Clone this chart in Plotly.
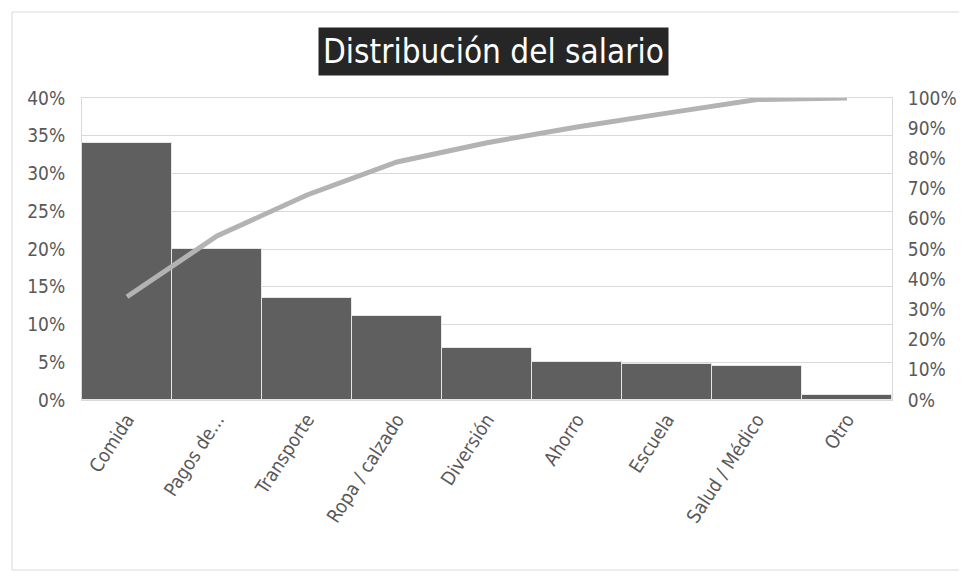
import plotly.graph_objects as go

categories = ["Comida", "Pagos de...", "Transporte", "Ropa / calzado", "Diversión",
              "Ahorro", "Escuela", "Salud / Médico", "Otro"]
share_pct = [34.0, 20.0, 13.5, 11.1, 6.9, 5.0, 4.8, 4.5, 0.7]
cumulative_pct = [34.2, 54.3, 67.9, 78.8, 85.2, 90.4, 95.0, 99.5, 100.0]

left_ticks = [0, 5, 10, 15, 20, 25, 30, 35, 40]
right_ticks = [0, 10, 20, 30, 40, 50, 60, 70, 80, 90, 100]

FONT = "Liberation Sans Narrow, DejaVu Sans Condensed, Arial Narrow, sans-serif"
TXT = "#595959"
GRID = "#d9d9d9"

fig = go.Figure()
fig.add_trace(go.Bar(
    x=categories, y=share_pct, marker=dict(color="#5f5f5f", line=dict(color="#e6e6e6", width=1)),
    width=1.0, yaxis="y", showlegend=False, hoverinfo="x+y"))
fig.add_trace(go.Scatter(
    x=categories, y=cumulative_pct, mode="lines", yaxis="y2",
    line=dict(color="#b3b3b3", width=5), showlegend=False))

fig.update_layout(
    width=967, height=581,
    margin=dict(l=74, r=83, t=90, b=189),
    paper_bgcolor="white", plot_bgcolor="white",
    font=dict(family=FONT, color=TXT, size=19),
    bargap=0,
    xaxis=dict(tickangle=-57, tickfont=dict(size=19, color=TXT), showgrid=False,
               showline=True, linecolor=GRID, linewidth=1, mirror=True,
               ticks="", range=[-0.5, 8.5]),
    yaxis=dict(range=[0, 40], tickvals=left_ticks, ticktext=[f"{v}%" for v in left_ticks],
               gridcolor=GRID, gridwidth=1, zeroline=False, showline=True,
               linecolor=GRID, tickfont=dict(size=19, color=TXT), ticklabelstandoff=12),
    yaxis2=dict(range=[0, 100], tickvals=right_ticks, ticktext=[f"{v}%" for v in right_ticks],
                overlaying="y", side="right", showgrid=False, zeroline=False,
                showline=True, linecolor=GRID, tickfont=dict(size=19, color=TXT),
                ticklabelstandoff=11),
    annotations=[dict(
        text="Distribución del salario", xref="paper", yref="paper",
        x=0.508, y=1.0, xanchor="center", yanchor="bottom", yshift=22,
        showarrow=False, bgcolor="#262626", borderpad=4,
        font=dict(family=FONT, size=33, color="white"))],
    shapes=[dict(type="rect", xref="paper", yref="paper",
                 x0=-70/810, x1=1 + 78/810, y0=-170/302, y1=1 + 86/302,
                 line=dict(color=GRID, width=1), fillcolor="rgba(0,0,0,0)", layer="below")],
)

fig.write_html("out.html")
